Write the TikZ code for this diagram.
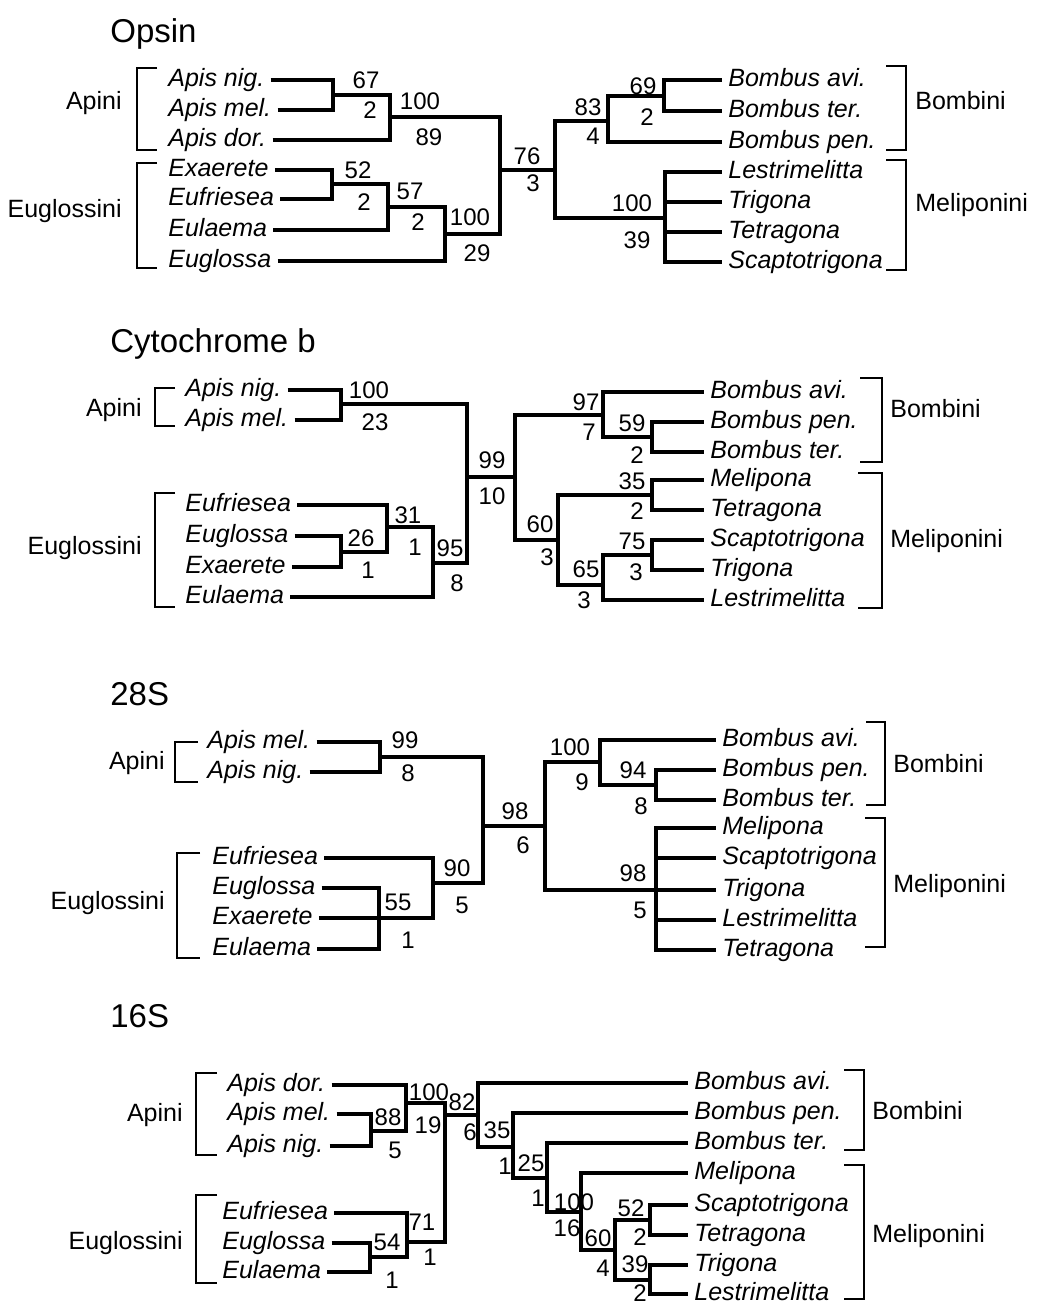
\documentclass[tikz,border=0pt]{standalone}
\usepackage{fontspec}
\setmainfont{Liberation Sans}
\tikzset{
  tree/.style={line width=2.1pt},
  brk/.style={line width=0.75pt},
  tx/.style={font=\itshape\fontsize{12.5}{14}\selectfont, inner sep=3pt, text height=9pt, text depth=3pt, anchor=west},
  grp/.style={font=\fontsize{12.5}{14}\selectfont, inner sep=0pt, text height=9pt, text depth=0pt},
  sv/.style={font=\fontsize{12}{14}\selectfont, inner sep=0pt},
  ttl/.style={font=\fontsize{16.5}{19}\selectfont, inner sep=0pt, text height=12pt, text depth=0pt, anchor=west},
}
\begin{document}
\begin{tikzpicture}[x=0.5pt,y=-0.5pt]
\useasboundingbox (0,0) rectangle (1041,1307);

% ---------- Opsin
\node[ttl] (o-t) at (110,30) {Opsin};
\node[tx] (o-nig) at (162,80) {Apis nig.};
\node[tx] (o-mel) at (162,110) {Apis mel.};
\node[tx] (o-dor) at (162,140) {Apis dor.};
\node[tx] (o-exa) at (162,170) {Exaerete};
\node[tx] (o-euf) at (162,199) {Eufriesea};
\node[tx] (o-eul) at (162,230) {Eulaema};
\node[tx] (o-eug) at (162,261) {Euglossa};
\node[tx] (o-avi) at (722,80) {Bombus avi.};
\node[tx] (o-ter) at (722,111) {Bombus ter.};
\node[tx] (o-pen) at (722,142) {Bombus pen.};
\node[tx] (o-les) at (722,172) {Lestrimelitta};
\node[tx] (o-tri) at (722,202) {Trigona};
\node[tx] (o-tet) at (722,232) {Tetragona};
\node[tx] (o-sca) at (722,262) {Scaptotrigona};
\coordinate (o1) at (333,95);
\coordinate (o2) at (390,117);
\coordinate (o3) at (332,184);
\coordinate (o4) at (388,207);
\coordinate (o5) at (445,234);
\coordinate (or) at (500,170);
\coordinate (om) at (555,170);
\coordinate (ob1) at (608,121);
\coordinate (ob2) at (664,96);
\coordinate (omp) at (665,218);
\draw[tree] (o-nig) -| (o1);
\draw[tree] (o-mel) -| (o1);
\draw[tree] (o1) -| (o2);
\draw[tree] (o-dor) -| (o2);
\draw[tree] (o-exa) -| (o3);
\draw[tree] (o-euf) -| (o3);
\draw[tree] (o3) -| (o4);
\draw[tree] (o-eul) -| (o4);
\draw[tree] (o4) -| (o5);
\draw[tree] (o-eug) -| (o5);
\draw[tree] (o2) -| (or);
\draw[tree] (o5) -| (or);
\draw[tree] (or) -- (om);
\draw[tree] (om) |- (ob1);
\draw[tree] (om) |- (omp);
\draw[tree] (ob1) |- (ob2);
\draw[tree] (ob1) |- (o-pen);
\draw[tree] (ob2) |- (o-avi);
\draw[tree] (ob2) |- (o-ter);
\draw[tree] (omp) |- (o-les);
\draw[tree] (omp) |- (o-tri);
\draw[tree] (omp) |- (o-tet);
\draw[tree] (omp) |- (o-sca);
\node[sv] at (366,80) {67};   \node[sv] at (370,110) {2};
\node[sv] at (420,101) {100}; \node[sv] at (429,137) {89};
\node[sv] at (358,170) {52};  \node[sv] at (364,202) {2};
\node[sv] at (410,191) {57};  \node[sv] at (418,222) {2};
\node[sv] at (470,217) {100}; \node[sv] at (477,253) {29};
\node[sv] at (527,156) {76};  \node[sv] at (533,183) {3};
\node[sv] at (588,107) {83};  \node[sv] at (593,136) {4};
\node[sv] at (643,86) {69};   \node[sv] at (647,117) {2};
\node[sv] at (632,203) {100}; \node[sv] at (637,240) {39};
\draw[brk] (157,68) -- (137,68) -- (137,150) -- (157,150);
\draw[brk] (157,163) -- (137,163) -- (137,268) -- (157,268);
\draw[brk] (886,66) -- (906,66) -- (906,150) -- (886,150);
\draw[brk] (886,160) -- (906,160) -- (906,270) -- (886,270);
\node[grp, anchor=east] (o-api) at (122,100) {Apini};
\node[grp, anchor=east] (o-egl) at (122,208) {Euglossini};
\node[grp, anchor=west] (o-bom) at (915,100) {Bombini};
\node[grp, anchor=west] (o-mlp) at (915,202) {Meliponini};

% ---------- Cytochrome b
\node[ttl] (c-t) at (110,340) {Cytochrome b};
\node[tx] (c-nig) at (179,390) {Apis nig.};
\node[tx] (c-mel) at (179,420) {Apis mel.};
\node[tx] (c-euf) at (179,505) {Eufriesea};
\node[tx] (c-eug) at (179,536) {Euglossa};
\node[tx] (c-exa) at (179,567) {Exaerete};
\node[tx] (c-eul) at (179,597) {Eulaema};
\node[tx] (c-avi) at (704,392) {Bombus avi.};
\node[tx] (c-pen) at (704,422) {Bombus pen.};
\node[tx] (c-ter) at (704,452) {Bombus ter.};
\node[tx] (c-mel2) at (704,480) {Melipona};
\node[tx] (c-tet) at (704,510) {Tetragona};
\node[tx] (c-sca) at (704,540) {Scaptotrigona};
\node[tx] (c-tri) at (704,570) {Trigona};
\node[tx] (c-les) at (704,600) {Lestrimelitta};
\coordinate (c1) at (341,404);
\coordinate (c2) at (341,552);
\coordinate (c3) at (387,527);
\coordinate (c4) at (433,563);
\coordinate (cr) at (467,477);
\coordinate (d0) at (515,477);
\coordinate (d1) at (603,415);
\coordinate (d2) at (652,437);
\coordinate (d3) at (558,540);
\coordinate (d4) at (652,495);
\coordinate (d5) at (652,555);
\coordinate (d6) at (603,585);
\draw[tree] (c-nig) -| (c1);
\draw[tree] (c-mel) -| (c1);
\draw[tree] (c-eug) -| (c2);
\draw[tree] (c-exa) -| (c2);
\draw[tree] (c-euf) -| (c3);
\draw[tree] (c2) -| (c3);
\draw[tree] (c3) -| (c4);
\draw[tree] (c-eul) -| (c4);
\draw[tree] (c1) -| (cr);
\draw[tree] (c4) -| (cr);
\draw[tree] (cr) -- (d0);
\draw[tree] (d0) |- (d1);
\draw[tree] (d0) |- (d3);
\draw[tree] (d1) |- (c-avi);
\draw[tree] (d1) |- (d2);
\draw[tree] (d2) |- (c-pen);
\draw[tree] (d2) |- (c-ter);
\draw[tree] (d3) |- (d4);
\draw[tree] (d3) |- (d6);
\draw[tree] (d4) |- (c-mel2);
\draw[tree] (d4) |- (c-tet);
\draw[tree] (d6) |- (d5);
\draw[tree] (d6) |- (c-les);
\draw[tree] (d5) |- (c-sca);
\draw[tree] (d5) |- (c-tri);
\node[sv] at (369,390) {100}; \node[sv] at (375,422) {23};
\node[sv] at (361,538) {26};  \node[sv] at (368,570) {1};
\node[sv] at (408,515) {31};  \node[sv] at (415,547) {1};
\node[sv] at (450,548) {95};  \node[sv] at (457,583) {8};
\node[sv] at (492,460) {99};  \node[sv] at (492,496) {10};
\node[sv] at (586,402) {97};  \node[sv] at (589,432) {7};
\node[sv] at (632,423) {59};  \node[sv] at (637,455) {2};
\node[sv] at (540,524) {60};  \node[sv] at (547,557) {3};
\node[sv] at (632,481) {35};  \node[sv] at (637,511) {2};
\node[sv] at (632,541) {75};  \node[sv] at (636,572) {3};
\node[sv] at (586,569) {65};  \node[sv] at (584,600) {3};
\draw[brk] (175,388) -- (155,388) -- (155,426) -- (175,426);
\draw[brk] (175,493) -- (155,493) -- (155,607) -- (175,607);
\draw[brk] (860,378) -- (882,378) -- (882,462) -- (860,462);
\draw[brk] (858,473) -- (882,473) -- (882,608) -- (858,608);
\node[grp, anchor=east] (c-api) at (142,407) {Apini};
\node[grp, anchor=east] (c-egl) at (142,545) {Euglossini};
\node[grp, anchor=west] (c-bom) at (890,408) {Bombini};
\node[grp, anchor=west] (c-mlp) at (890,538) {Meliponini};

% ---------- 28S
\node[ttl] (g-t) at (110,693) {28S};
\node[tx] (g-mel) at (201,742) {Apis mel.};
\node[tx] (g-nig) at (201,772) {Apis nig.};
\node[tx] (g-euf) at (206,858) {Eufriesea};
\node[tx] (g-eug) at (206,888) {Euglossa};
\node[tx] (g-exa) at (206,918) {Exaerete};
\node[tx] (g-eul) at (206,949) {Eulaema};
\node[tx] (g-avi) at (716,740) {Bombus avi.};
\node[tx] (g-pen) at (716,770) {Bombus pen.};
\node[tx] (g-ter) at (716,800) {Bombus ter.};
\node[tx] (g-mel2) at (716,828) {Melipona};
\node[tx] (g-sca) at (716,858) {Scaptotrigona};
\node[tx] (g-tri) at (716,890) {Trigona};
\node[tx] (g-les) at (716,920) {Lestrimelitta};
\node[tx] (g-tet) at (716,950) {Tetragona};
\coordinate (g1) at (380,757);
\coordinate (g2) at (379,918);
\coordinate (g3) at (433,883);
\coordinate (gr) at (483,826);
\coordinate (h0) at (545,826);
\coordinate (h1) at (600,762);
\coordinate (h2) at (656,785);
\coordinate (h3) at (656,890);
\draw[tree] (g-mel) -| (g1);
\draw[tree] (g-nig) -| (g1);
\draw[tree] (g-eug) -| (g2);
\draw[tree] (g-exa) -| (g2);
\draw[tree] (g-eul) -| (g2);
\draw[tree] (g-euf) -| (g3);
\draw[tree] (g2) -| (g3);
\draw[tree] (g1) -| (gr);
\draw[tree] (g3) -| (gr);
\draw[tree] (gr) -- (h0);
\draw[tree] (h0) |- (h1);
\draw[tree] (h0) |- (h3);
\draw[tree] (h1) |- (g-avi);
\draw[tree] (h1) |- (h2);
\draw[tree] (h2) |- (g-pen);
\draw[tree] (h2) |- (g-ter);
\draw[tree] (h3) |- (g-mel2);
\draw[tree] (h3) |- (g-sca);
\draw[tree] (h3) |- (g-tri);
\draw[tree] (h3) |- (g-les);
\draw[tree] (h3) |- (g-tet);
\node[sv] at (405,740) {99};  \node[sv] at (408,773) {8};
\node[sv] at (398,902) {55};  \node[sv] at (408,940) {1};
\node[sv] at (457,868) {90};  \node[sv] at (462,905) {5};
\node[sv] at (515,811) {98};  \node[sv] at (523,845) {6};
\node[sv] at (570,747) {100}; \node[sv] at (582,782) {9};
\node[sv] at (633,770) {94};  \node[sv] at (641,806) {8};
\node[sv] at (633,873) {98};  \node[sv] at (640,910) {5};
\draw[brk] (198,742) -- (175,742) -- (175,782) -- (198,782);
\draw[brk] (200,853) -- (177,853) -- (177,958) -- (200,958);
\draw[brk] (866,722) -- (885,722) -- (885,805) -- (866,805);
\draw[brk] (865,818) -- (885,818) -- (885,947) -- (865,947);
\node[grp, anchor=east] (g-api) at (165,760) {Apini};
\node[grp, anchor=east] (g-egl) at (165,900) {Euglossini};
\node[grp, anchor=west] (g-bom) at (893,763) {Bombini};
\node[grp, anchor=west] (g-mlp) at (893,883) {Meliponini};

% ---------- 16S
\node[ttl] (k-t) at (110,1015) {16S};
\node[tx] (k-dor) at (221,1085) {Apis dor.};
\node[tx] (k-mel) at (221,1114) {Apis mel.};
\node[tx] (k-nig) at (221,1146) {Apis nig.};
\node[tx] (k-euf) at (216,1213) {Eufriesea};
\node[tx] (k-eug) at (216,1243) {Euglossa};
\node[tx] (k-eul) at (216,1272) {Eulaema};
\node[tx] (k-avi) at (688,1083) {Bombus avi.};
\node[tx] (k-pen) at (688,1113) {Bombus pen.};
\node[tx] (k-ter) at (688,1143) {Bombus ter.};
\node[tx] (k-mel2) at (688,1173) {Melipona};
\node[tx] (k-sca) at (688,1205) {Scaptotrigona};
\node[tx] (k-tet) at (688,1235) {Tetragona};
\node[tx] (k-tri) at (688,1265) {Trigona};
\node[tx] (k-les) at (688,1294) {Lestrimelitta};
\coordinate (k1) at (371,1131);
\coordinate (k2) at (406,1103);
\coordinate (k3) at (370,1257);
\coordinate (k4) at (407,1242);
\coordinate (kr) at (445,1115);
\coordinate (l0) at (478,1115);
\coordinate (l1) at (513,1147);
\coordinate (l2) at (547,1178);
\coordinate (l3) at (581,1212);
\coordinate (l4) at (615,1250);
\coordinate (l5) at (650,1220);
\coordinate (l6) at (650,1280);
\draw[tree] (k-mel) -| (k1);
\draw[tree] (k-nig) -| (k1);
\draw[tree] (k-dor) -| (k2);
\draw[tree] (k1) -| (k2);
\draw[tree] (k-eug) -| (k3);
\draw[tree] (k-eul) -| (k3);
\draw[tree] (k-euf) -| (k4);
\draw[tree] (k3) -| (k4);
\draw[tree] (k2) -| (kr);
\draw[tree] (k4) -| (kr);
\draw[tree] (kr) -- (l0);
\draw[tree] (l0) |- (k-avi);
\draw[tree] (l0) |- (l1);
\draw[tree] (l1) |- (k-pen);
\draw[tree] (l1) |- (l2);
\draw[tree] (l2) |- (k-ter);
\draw[tree] (l2) |- (l3);
\draw[tree] (l3) |- (k-mel2);
\draw[tree] (l3) |- (l4);
\draw[tree] (l4) |- (l5);
\draw[tree] (l4) |- (l6);
\draw[tree] (l5) |- (k-sca);
\draw[tree] (l5) |- (k-tet);
\draw[tree] (l6) |- (k-tri);
\draw[tree] (l6) |- (k-les);
\node[sv] at (388,1117) {88};  \node[sv] at (395,1150) {5};
\node[sv] at (429,1092) {100}; \node[sv] at (428,1125) {19};
\node[sv] at (387,1242) {54};  \node[sv] at (392,1280) {1};
\node[sv] at (422,1222) {71};  \node[sv] at (430,1257) {1};
\node[sv] at (462,1102) {82};  \node[sv] at (470,1132) {6};
\node[sv] at (497,1130) {35};  \node[sv] at (505,1166) {1};
\node[sv] at (531,1163) {25};  \node[sv] at (538,1198) {1};
\node[sv] at (574,1202) {100}; \node[sv] at (567,1228) {16};
\node[sv] at (598,1238) {60};  \node[sv] at (603,1268) {4};
\node[sv] at (631,1208) {52};  \node[sv] at (640,1237) {2};
\node[sv] at (635,1264) {39};  \node[sv] at (640,1293) {2};
\draw[brk] (217,1073) -- (196,1073) -- (196,1155) -- (217,1155);
\draw[brk] (217,1195) -- (196,1195) -- (196,1283) -- (217,1283);
\draw[brk] (844,1070) -- (864,1070) -- (864,1150) -- (844,1150);
\draw[brk] (844,1165) -- (864,1165) -- (864,1299) -- (844,1299);
\node[grp, anchor=east] (k-api) at (183,1112) {Apini};
\node[grp, anchor=east] (k-egl) at (183,1240) {Euglossini};
\node[grp, anchor=west] (k-bom) at (872,1110) {Bombini};
\node[grp, anchor=west] (k-mlp) at (872,1233) {Meliponini};
\end{tikzpicture}
\end{document}
